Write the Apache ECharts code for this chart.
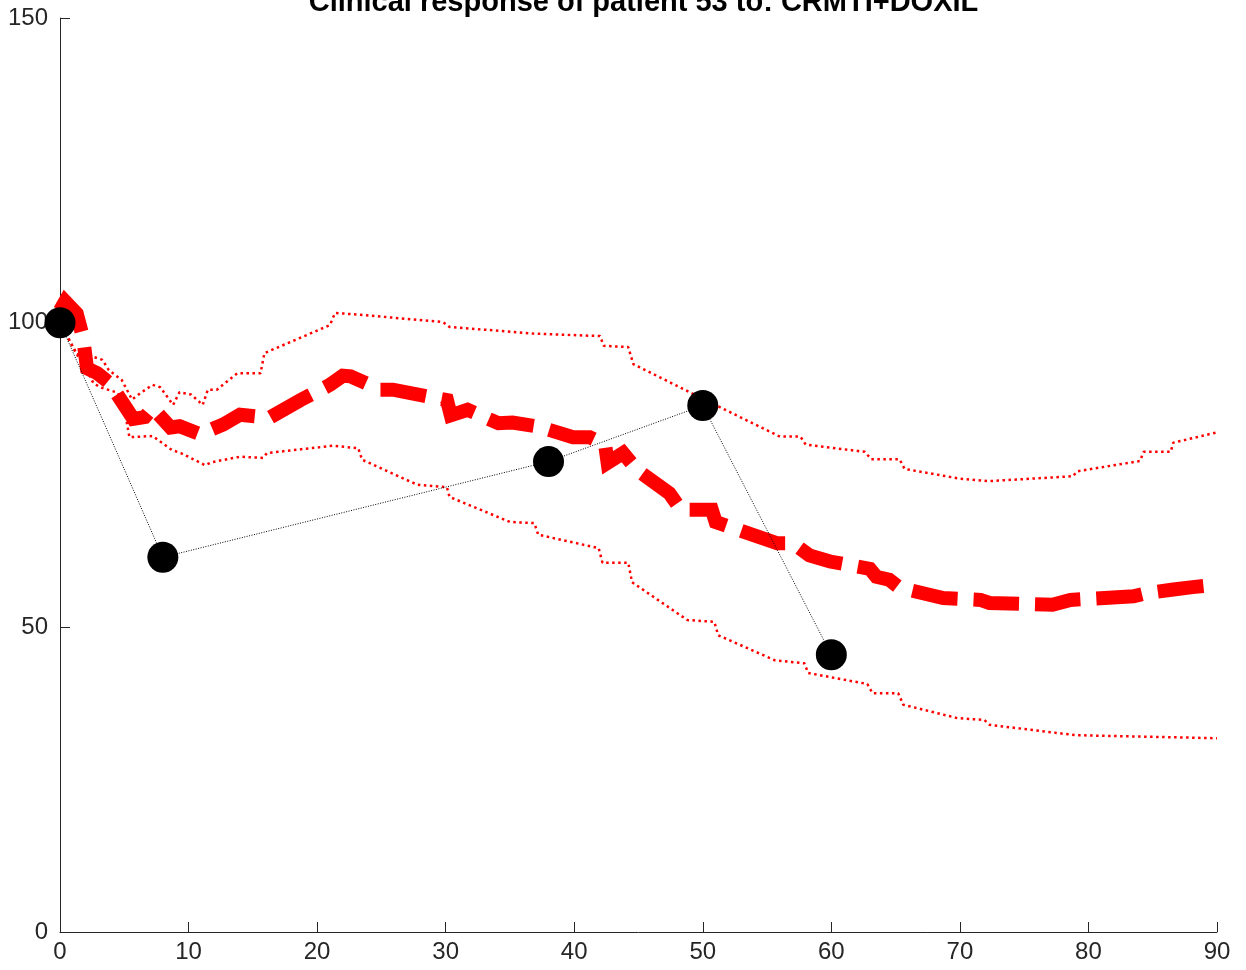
<!DOCTYPE html>
<html>
<head>
<meta charset="utf-8">
<script src="https://cdn.jsdelivr.net/npm/echarts@6/dist/echarts.min.js"></script>
<style>html,body{margin:0;padding:0;background:#fff}#c{width:1246px;height:970px}</style>
</head>
<body>
<div id="c"></div>
<script>
const titleText = 'Clinical response of patient 53 to: CRMTI+DOXIL';
const xTicks = [0, 10, 20, 30, 40, 50, 60, 70, 80, 90];
const yTicks = [0, 50, 100, 150];

// observed tumour measurements (days, % of baseline)
const obsDays = [0, 8, 38, 50, 60];
const obsVals = [100, 61.5, 77.2, 86.4, 45.5];

// predicted mean response
const meanDays = [0, 0.4, 1.3, 1.8, 2.1, 2.9, 3.9, 5.7, 6.6, 7.2, 8.6, 9.3, 10.9, 12.7, 14, 16.3, 18.7, 21, 22, 22.6, 24.9, 25.9, 30.1, 30.4, 31.7, 34.1, 35.2, 37.3, 39.9, 41.2, 42.4, 42.6, 43.8, 44.9, 47.4, 48.3, 50.7, 51, 55.8, 57, 58.3, 59.9, 63, 63.5, 64.5, 65.3, 67.7, 68.7, 71.6, 72.3, 77.2, 78.6, 83.5, 84.5, 86.6, 88.1, 90];
const meanVals = [102, 103.5, 101.5, 97.5, 92.5, 91.7, 90, 84.2, 84.5, 86, 82.8, 83, 81.7, 83.3, 84.9, 84.4, 87.3, 89.8, 91.3, 91.2, 89, 89, 87.3, 84.8, 85.7, 83.5, 83.6, 82.9, 81.2, 81.2, 80, 77, 78.6, 75.8, 72, 69.3, 69.3, 67.3, 63.8, 63.8, 61.8, 60.8, 59.6, 58.3, 57.8, 56.5, 55.3, 54.8, 54.5, 54, 53.7, 54.5, 55.1, 55.6, 56.2, 56.6, 57];

// upper prediction bound
const upDays = [0, 1.3, 2.3, 3.3, 3.8, 4.8, 5.6, 6.3, 7.2, 7.8, 8.8, 9.3, 10.2, 11.1, 11.5, 12.2, 13.8, 15.6, 15.9, 21, 21.4, 23.3, 29.8, 30.3, 36.9, 42, 42.3, 44.2, 44.6, 50.2, 56, 57.6, 58, 62.6, 63.1, 65.3, 65.7, 70, 72.3, 78.8, 79.1, 84, 84.3, 86.4, 86.6, 90];
const upVals = [100, 94.8, 94.6, 93.9, 92.2, 90.6, 87.4, 88.5, 89.8, 89.4, 86.5, 88.6, 88.2, 86.5, 89, 89, 91.7, 91.7, 95, 99.6, 101.6, 101.3, 100.1, 99.3, 98.2, 97.8, 96.2, 96, 93.2, 87.3, 81.3, 81.3, 80, 78.8, 77.6, 77.6, 76, 74.4, 74, 74.8, 75.6, 77.3, 78.8, 78.8, 80.3, 82];

// lower prediction bound
const loDays = [0, 1.4, 2.0, 2.6, 3.1, 4.5, 5.0, 5.4, 7.2, 8.7, 9.4, 11.3, 11.8, 14, 15.8, 16.1, 21.2, 23.2, 23.5, 27.8, 30.1, 30.3, 35, 36.9, 37.2, 41.9, 42.2, 44.2, 44.5, 48.8, 50.9, 51.2, 55.6, 57.9, 58.2, 62.8, 63.2, 65.2, 65.6, 69.8, 71.9, 72.3, 79, 90];
const loVals = [100, 94.5, 92.5, 90.1, 89.4, 88.5, 86, 81.2, 81.4, 79.1, 78.6, 76.6, 77.1, 78, 77.8, 78.6, 79.8, 79.4, 77.5, 73.4, 73, 71.4, 67.3, 67.1, 65.2, 63, 60.6, 60.6, 57.4, 51.2, 50.9, 48.7, 44.6, 44.1, 42.5, 40.7, 39.2, 39.2, 37.3, 35.1, 34.8, 34, 32.3, 31.8];

const zip = (a, b) => a.map((v, i) => [v, b[i]]);
const axisColor = '#262626';
const font = '"Liberation Sans", Arial, Helvetica, sans-serif';

const chart = echarts.init(document.getElementById('c'), null, {renderer: 'canvas'});
chart.setOption({
  animation: false,
  backgroundColor: '#fff',
  title: {
    text: titleText,
    left: 638.5,
    textAlign: 'center',
    top: -17,
    textStyle: {fontFamily: font, fontSize: 29, fontWeight: 'bold', color: '#000'}
  },
  grid: {left: 60, right: 29, top: 18, bottom: 38, containLabel: false},
  xAxis: {
    type: 'value', min: 0, max: 90, interval: 10,
    axisLine: {show: true, onZero: false, lineStyle: {color: axisColor, width: 1}},
    axisTick: {show: true, inside: true, length: 10, lineStyle: {color: axisColor}},
    axisLabel: {color: axisColor, fontFamily: font, fontSize: 24, margin: 8,
      formatter: v => xTicks.includes(v) ? String(v) : ''},
    splitLine: {show: false}
  },
  yAxis: {
    type: 'value', min: 0, max: 150, interval: 50,
    axisLine: {show: true, onZero: false, lineStyle: {color: axisColor, width: 1}},
    axisTick: {show: true, inside: true, length: 10, lineStyle: {color: axisColor}},
    axisLabel: {color: axisColor, fontFamily: font, fontSize: 24, margin: 12,
      formatter: v => yTicks.includes(v) ? String(v) : ''},
    splitLine: {show: false}
  },
  series: [
    {
      type: 'line', data: zip(upDays, upVals), showSymbol: false, symbol: 'none',
      lineStyle: {color: '#ff0000', width: 2.5, type: [2.5, 3.5]}, z: 2
    },
    {
      type: 'line', data: zip(loDays, loVals), showSymbol: false, symbol: 'none',
      lineStyle: {color: '#ff0000', width: 2.5, type: [2.5, 3.5]}, z: 2
    },
    {
      type: 'line', data: zip(meanDays, meanVals), showSymbol: false, symbol: 'none',
      lineStyle: {color: '#ff0000', width: 14, type: [46, 16], cap: 'butt', join: 'miter'}, z: 3
    },
    {
      type: 'line', data: zip(obsDays, obsVals), symbol: 'circle', symbolSize: 31,
      showSymbol: true, clip: false,
      itemStyle: {color: '#000', borderWidth: 0},
      lineStyle: {color: '#000', width: 1, type: [1, 1.5]}, z: 4
    }
  ]
});
</script>
</body>
</html>
